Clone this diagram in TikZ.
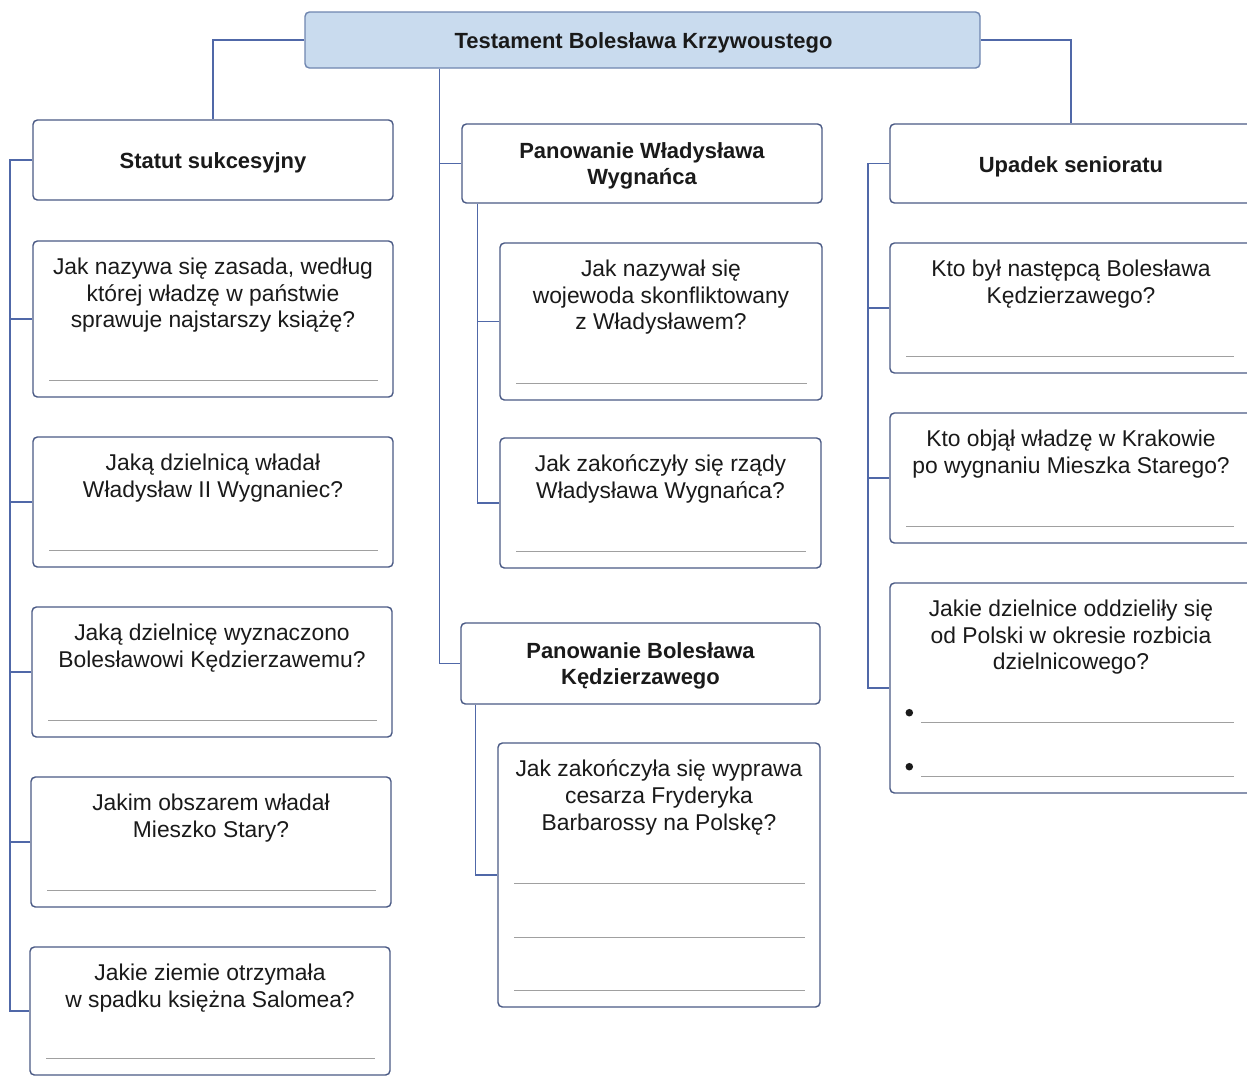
\documentclass[tikz,border=0pt]{standalone}
\usepackage{fontspec}
\setmainfont{Liberation Sans}
\usetikzlibrary{fit,calc}
\definecolor{boxline}{HTML}{4A5A85}
\definecolor{connline}{HTML}{5068A8}
\definecolor{titlefill}{HTML}{C9DBEE}
\definecolor{titleline}{HTML}{6F86B0}
\definecolor{ansline}{HTML}{A0A0A0}
\definecolor{ink}{HTML}{1A1A1A}
\begin{document}
\begin{tikzpicture}[x=0.02cm,y=-0.02cm,
  box/.style={draw=boxline, line width=0.8pt, rounded corners=2.5pt, fill=white, inner sep=0pt},
  titlebox/.style={box, fill=titlefill, draw=titleline},
  htext/.style={anchor=center, inner sep=0pt, align=center, text=ink, font=\fontsize{12.5}{14.7}\selectfont\bfseries},
  qtext/.style={anchor=north, inner sep=0pt, align=center, text=ink, font=\fontsize{13}{15.3}\selectfont},
  conn/.style={draw=connline, line width=0.8pt},
  ans/.style={draw=ansline, line width=0.5pt},
  bullet/.style={fill=ink, draw=none, circle, inner sep=0pt, minimum size=4.3pt}]
\useasboundingbox (0,0) rectangle (1247,1076);
\clip (0,0) rectangle (1247,1076);
\fill[white] (0,0) rectangle (1247,1076);

% title and headers
\node[titlebox, fit={(305,12) (980,68)}] (title) {};
\node[box, fit={(33,120) (393,200)}] (statut) {};
\node[box, fit={(462,124) (822,203)}] (pw) {};
\node[box, fit={(461,623) (820,704)}] (pb) {};
\node[box, fit={(890,124) (1252,203)}] (up) {};
\node[htext] (titlet) at ($(title.center)+(1,3)$) {Testament Bolesława Krzywoustego};
\node[htext] (statutt) at ($(statut.center)+(0,3)$) {Statut sukcesyjny};
\node[htext] (pwt) at ($(pw.center)+(0,2)$) {Panowanie Władysława\\Wygnańca};
\node[htext] (pbt) at ($(pb.center)+(0,2)$) {Panowanie Bolesława\\Kędzierzawego};
\node[htext] (upt) at ($(up.center)+(0,3)$) {Upadek senioratu};

% question boxes
\node[box, fit={(33,241) (393,397)}] (q1) {};
\node[box, fit={(33,437) (393,567)}] (q2) {};
\node[box, fit={(32,607) (392,737)}] (q3) {};
\node[box, fit={(31,777) (391,907)}] (q4) {};
\node[box, fit={(30,947) (390,1075)}] (q5) {};
\node[box, fit={(500,243) (822,400)}] (a1) {};
\node[box, fit={(500,438) (821,568)}] (a2) {};
\node[box, fit={(498,743) (820,1007)}] (b1) {};
\node[box, fit={(890,243) (1252,373)}] (r1) {};
\node[box, fit={(890,413) (1252,543)}] (r2) {};
\node[box, fit={(890,583) (1252,793)}] (r3) {};

% question texts
\node[qtext] (q1t) at ($(q1.north)+(0,17)$) {Jak nazywa się zasada, według\\której władzę w państwie\\sprawuje najstarszy książę?};
\node[qtext] (q2t) at ($(q2.north)+(0,17)$) {Jaką dzielnicą władał\\Władysław II Wygnaniec?};
\node[qtext] (q3t) at ($(q3.north)+(0,17)$) {Jaką dzielnicę wyznaczono\\Bolesławowi Kędzierzawemu?};
\node[qtext] (q4t) at ($(q4.north)+(0,17)$) {Jakim obszarem władał\\Mieszko Stary?};
\node[qtext] (q5t) at ($(q5.north)+(0,17)$) {Jakie ziemie otrzymała\\w spadku księżna Salomea?};
\node[qtext] (a1t) at ($(a1.north)+(0,17)$) {Jak nazywał się\\wojewoda skonfliktowany\\z Władysławem?};
\node[qtext] (a2t) at ($(a2.north)+(0,17)$) {Jak zakończyły się rządy\\Władysława Wygnańca?};
\node[qtext] (b1t) at ($(b1.north)+(0,17)$) {Jak zakończyła się wyprawa\\cesarza Fryderyka\\Barbarossy na Polskę?};
\node[qtext] (r1t) at ($(r1.north)+(0,17)$) {Kto był następcą Bolesława\\Kędzierzawego?};
\node[qtext] (r2t) at ($(r2.north)+(0,17)$) {Kto objął władzę w Krakowie\\po wygnaniu Mieszka Starego?};
\node[qtext] (r3t) at ($(r3.north)+(0,17)$) {Jakie dzielnice oddzieliły się\\od Polski w okresie rozbicia\\dzielnicowego?};

% answer lines
\foreach \b in {q1,q2,q3,q4,q5,a1,a2}
  \draw[ans] ($(\b.south west)+(17,-17)$) -- ($(\b.south east)+(-16,-17)$);
\foreach \o in {17,70,124}
  \draw[ans] ($(b1.south west)+(17,-\o)$) -- ($(b1.south east)+(-16,-\o)$);
\foreach \b in {r1,r2}
  \draw[ans] ($(\b.south west)+(17,-17)$) -- ($(\b.south east)+(-19,-17)$);
\foreach \o in {17,71}{
  \draw[ans] ($(r3.south west)+(32,-\o)$) -- ($(r3.south east)+(-19,-\o)$);
  \node[bullet] at ($(r3.south west)+(20,-\o-10)$) {};
}

% connectors: title to headers
\draw[conn] (title.west) -| (statut.north);
\draw[conn] (title.east) -| (up.north);
\coordinate (mtop) at ($(title.south west)+(135,0)$);
\draw[conn] (mtop) |- (pw.west);
\draw[conn] (mtop) |- (pb.west);

% left spine
\coordinate (ls) at (10,0);
\draw[conn] (statut.west) -- (statut.west -| ls) |- (q5.west);
\foreach \b in {q1,q2,q3,q4}
  \draw[conn] (\b.west) -- (\b.west -| ls);

% middle spines
\coordinate (ms1) at ($(pw.south west)+(16,0)$);
\draw[conn] (ms1) |- (a2.west);
\draw[conn] (a1.west) -- (a1.west -| ms1);
\coordinate (ms2) at ($(pb.south west)+(15,0)$);
\draw[conn] (ms2) |- (b1.west);

% right spine
\coordinate (rs) at (868,0);
\draw[conn] (up.west) -- (up.west -| rs) |- (r3.west);
\foreach \b in {r1,r2}
  \draw[conn] (\b.west) -- (\b.west -| rs);
\end{tikzpicture}
\end{document}
